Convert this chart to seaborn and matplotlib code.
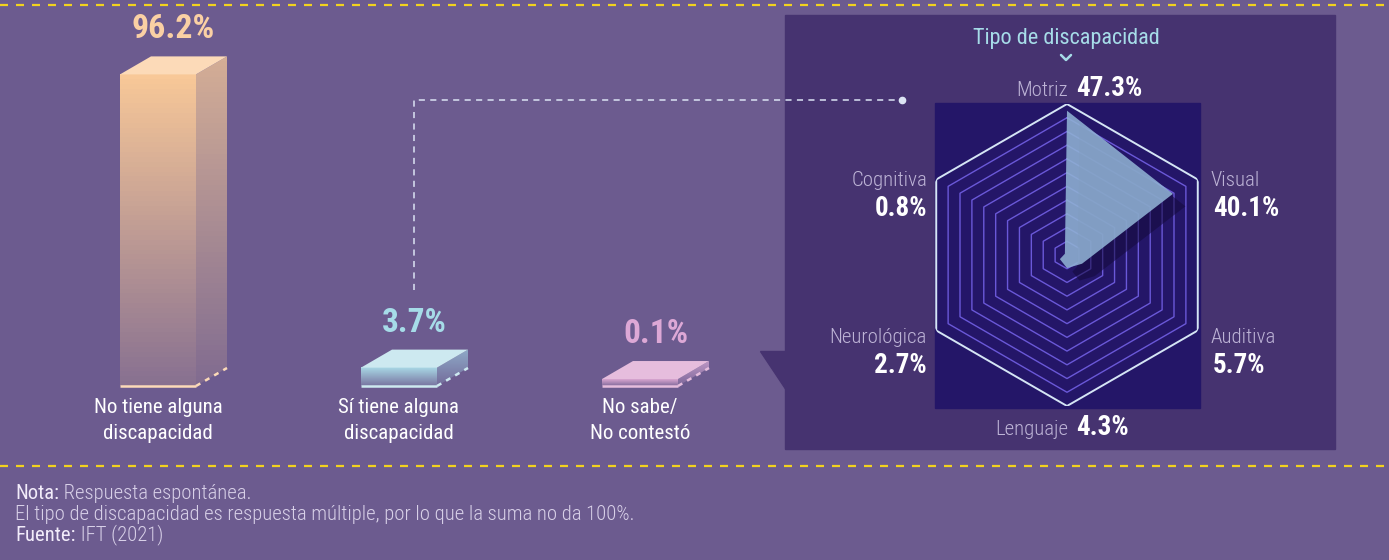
import numpy as np
import matplotlib
matplotlib.use("Agg")
import matplotlib.pyplot as plt
import matplotlib.patheffects as pe
from matplotlib import font_manager
from matplotlib.colors import to_rgb
from matplotlib.patches import Polygon, Rectangle
from matplotlib.lines import Line2D
import seaborn as sns

# ---- data ----
bar_labels = ["No tiene alguna\ndiscapacidad", "Sí tiene alguna\ndiscapacidad", "No sabe/\nNo contestó"]
bar_values = [96.2, 3.7, 0.1]

radar_labels = ["Motriz", "Visual", "Auditiva", "Lenguaje", "Neurológica", "Cognitiva"]
radar_values = [47.3, 40.1, 5.7, 4.3, 2.7, 0.8]
ring_levels = np.arange(4.5, 50, 4.5)

notes = [("Nota:", "Respuesta espontánea."),
         ("", "El tipo de discapacidad es respuesta múltiple, por lo que la suma no da 100%."),
         ("Fuente:", "IFT (2021)")]

# ---- colours ----
BG = "#6C5B8F"
PANEL = "#463370"
INNER = "#241668"
RING = "#6A58D8"
YELLOW = "#F2D21E"
bar_front = ["#F8C898", "#A9D9E6", "#D9A6D0"]
bar_top = ["#FCDAB8", "#CDE9F0", "#E6BDDD"]
bar_side = ["#D4AE96", "#8FAAC8", "#BC96C4"]
label_cols = ["#FAD0A4", "#A6DCE8", "#DDA8D6"]

sns.set_theme(style="white")
names = {f.name for f in font_manager.fontManager.ttflist}
FONT, STRETCH = "Roboto", "normal"
for c in ["Roboto Condensed", "Liberation Sans Narrow"]:
    if c in names:
        FONT = c
        break
else:
    for f in font_manager.fontManager.ttflist:
        if f.name in ("Roboto", "Noto Sans", "Open Sans") and f.stretch == "condensed":
            FONT, STRETCH = f.name, "condensed"
            break
plt.rcParams["font.family"] = [FONT, "DejaVu Sans"]
TK = dict(fontstretch=STRETCH)

W, H = 1389, 560
fig = plt.figure(figsize=(W / 100, H / 100), dpi=100)
fig.patch.set_facecolor(BG)


def fx(x):
    return x / W


def fy(y):
    return 1 - y / H


def mix(c, t):
    a, b = np.array(to_rgb(c)), np.array(to_rgb(BG))
    return a * (1 - t) + b * t


def grad(c_top, c_bot):
    g = np.linspace(0, 1, 64)[:, None]
    arr = np.array(c_bot)[None, :] * (1 - g) + np.array(c_top)[None, :] * g
    return arr[:, None, :]


# background panels
fig.patches.append(Rectangle((fx(785), fy(449)), fx(1335) - fx(785), fy(15) - fy(449),
                             transform=fig.transFigure, color=PANEL, zorder=-10))
fig.patches.append(Polygon([(fx(760), fy(351)), (fx(786), fy(351)), (fx(786), fy(390))],
                           transform=fig.transFigure, color=PANEL, zorder=-10))
fig.patches.append(Rectangle((fx(935), fy(408)), fx(1200) - fx(935), fy(103) - fy(408),
                             transform=fig.transFigure, color=INNER, zorder=-9))

# yellow dashed separators
for yy in [5, 466]:
    fig.lines.append(Line2D([0, 1], [fy(yy), fy(yy)], transform=fig.transFigure,
                            color=YELLOW, lw=1.6, dashes=(3.6, 3.6), zorder=5))

# connector
fig.lines.append(Line2D([fx(414), fx(414), fx(900)], [fy(290), fy(100), fy(100)],
                        transform=fig.transFigure, color="#DCE4F4", lw=1.1,
                        dashes=(4, 3.5), zorder=5))
fig.lines.append(Line2D([fx(902)], [fy(100)], transform=fig.transFigure, marker="o",
                        ms=4.5, color="#DCE4F4", lw=0, zorder=5))

# ---- 3D bars ----
S = 3.17          # px per unit
BASE = 2.1        # plinth thickness
YLO = -BASE - 174 / S
YHI = YLO + H / S
BAR_W = 76 / 241
DX = 31 / 241
DY = 18 / S

ax = fig.add_axes([37.5 / W, 0, 723 / W, 1])
sns.barplot(x=bar_labels, y=bar_values, hue=bar_labels, palette=bar_front, width=BAR_W,
            saturation=1, legend=False, ax=ax)
patches = sorted(ax.patches, key=lambda p: p.get_x())
for i, p in enumerate(patches):
    x0, w, top = p.get_x(), p.get_width(), p.get_height()
    x1 = x0 + w
    p.set_y(-BASE)
    p.set_height(top + BASE)
    p.set_facecolor("none")
    p.set_edgecolor("none")
    ax.imshow(grad(to_rgb(bar_front[i]), mix(bar_front[i], 0.8)), extent=[x0, x1, -BASE, top],
              aspect="auto", origin="lower", zorder=2)
    side = Polygon([(x1, -BASE), (x1 + DX, -BASE + DY), (x1 + DX, top + DY), (x1, top)],
                   fc="none", ec="none")
    ax.add_patch(side)
    im = ax.imshow(grad(to_rgb(bar_side[i]), mix(bar_side[i], 0.8)),
                   extent=[x1, x1 + DX, -BASE, top + DY], aspect="auto", origin="lower", zorder=2)
    im.set_clip_path(side)
    ax.add_patch(Polygon([(x0, top), (x1, top), (x1 + DX, top + DY), (x0 + DX, top + DY)],
                         fc=bar_top[i], ec="none", zorder=3))
    ax.plot([x0, x1], [-BASE, -BASE], color=bar_top[i], lw=1.8, zorder=4,
            solid_capstyle="butt")
    ax.plot([x1, x1 + DX], [-BASE, -BASE + DY], color=bar_top[i], lw=1.8, zorder=4,
            dashes=(2, 2.2))
    ax.text(i + DX / 2, top + 2 * DY, f"{bar_values[i]:.1f}%", ha="center", va="baseline",
            color=label_cols[i], fontsize=24.5 if i == 0 else 24, fontweight="bold", **TK)
    ax.text(i, YLO + (H - 398) / S, bar_labels[i], ha="center", va="top", color="white",
            fontsize=15, linespacing=1.45, **TK)
ax.set_xlim(-0.5, 2.5)
ax.set_ylim(YLO, YHI)
ax.set_axis_off()

# ---- radar ----
CX, CY, R = 1067, 255, 151
rax = fig.add_axes([fx(CX - R), fy(CY + R), 2 * R / W, 2 * R / H], projection="polar")
rax.set_theta_zero_location("N")
rax.set_theta_direction(-1)
ang = np.deg2rad(np.arange(0, 360, 60))
ang_c = np.append(ang, ang[0])
for r in ring_levels[:-1]:
    rax.plot(ang_c, [r] * 7, color=RING, lw=1)
rax.plot(ang_c, [ring_levels[-1]] * 7, color="#D5E5F5", lw=1.4)
vals_c = radar_values + radar_values[:1]
rax.fill(ang_c, vals_c, color="#90B2D4", alpha=0.88, lw=0, zorder=4,
         path_effects=[pe.SimplePatchShadow(offset=(9, -9), shadow_rgbFace="#140A3C", alpha=0.55),
                       pe.Normal()])
rax.set_ylim(0, ring_levels[-1])
rax.set_axis_off()

# radar labels
NAME = dict(color="#BDB3D6", fontsize=15, fontweight="light", **TK)
VAL = dict(color="white", fontsize=19.5, fontweight="bold", **TK)
fig.text(fx(1066), fy(44), "Tipo de discapacidad", ha="center", va="baseline",
         color="#A6DCE8", fontsize=16, **TK)
fig.lines.append(Line2D([fx(1061), fx(1066), fx(1071)], [fy(55), fy(60), fy(55)],
                        transform=fig.transFigure, color="#A6DCE8", lw=1.8))


def pct(v):
    return f"{v:.1f}%"


# inline (top/bottom)
for k, yb in [(0, 96), (3, 435)]:
    fig.text(fx(1068), fy(yb), radar_labels[k], ha="right", va="baseline", **NAME)
    fig.text(fx(1076), fy(yb), pct(radar_values[k]), ha="left", va="baseline", **VAL)
# right side
for k, yb in [(1, 186), (2, 343)]:
    fig.text(fx(1211), fy(yb), radar_labels[k], ha="left", va="baseline", **NAME)
    fig.text(fx(1213), fy(yb + 30), pct(radar_values[k]), ha="left", va="baseline", **VAL)
# left side
for k, yb in [(5, 186), (4, 343)]:
    fig.text(fx(927), fy(yb), radar_labels[k], ha="right", va="baseline", **NAME)
    fig.text(fx(927), fy(yb + 30), pct(radar_values[k]), ha="right", va="baseline", **VAL)

# ---- footer ----
for j, (head, body) in enumerate(notes):
    yb = 499 + 21 * j
    if head:
        t = fig.text(fx(15), fy(yb), head, ha="left", va="baseline", color="#F2ECFA",
                     fontsize=14.9, fontweight="normal", **TK)
        ax.annotate(" " + body, xy=(1, 0), xycoords=t, va="bottom", ha="left",
                    color="#D8D0E8", fontsize=14.9, fontweight="light", annotation_clip=False, **TK)
    else:
        fig.text(fx(15), fy(yb), body, ha="left", va="baseline", color="#D8D0E8",
                 fontsize=14.9, fontweight="light", **TK)

fig.savefig("out.png", dpi=100, facecolor=BG)
